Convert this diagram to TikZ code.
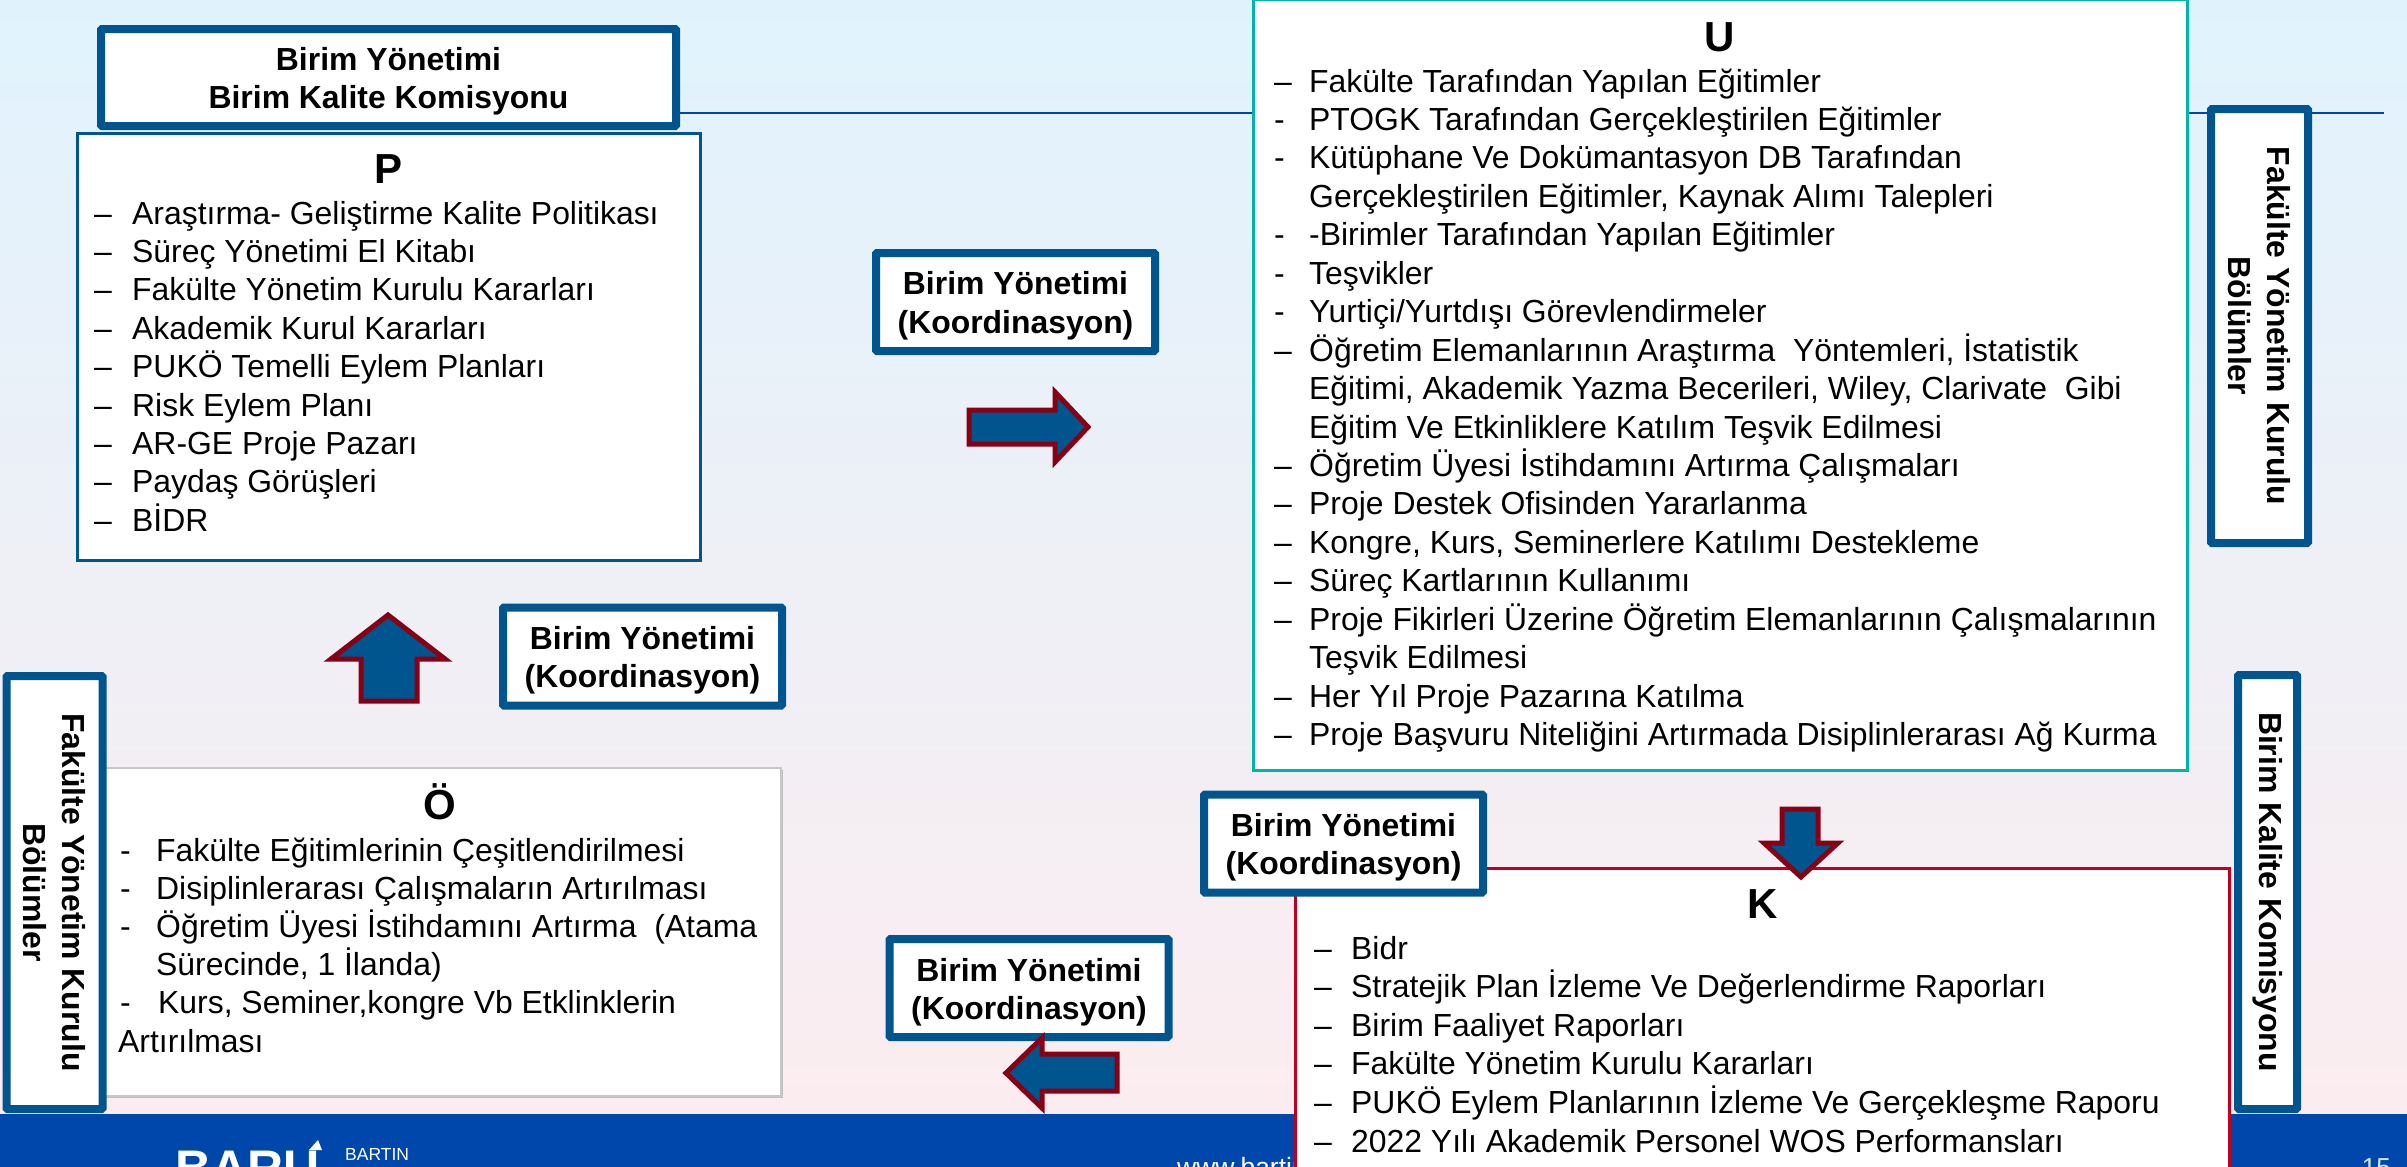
\documentclass[tikz,border=0pt]{standalone}
\usepackage{fontspec}
\setmainfont{Liberation Sans}
\definecolor{bgtop}{HTML}{E0F3FD}
\definecolor{bgbot}{HTML}{FDECEF}
\definecolor{band}{HTML}{0047AB}
\definecolor{frameblue}{HTML}{01558F}
\definecolor{framered}{HTML}{C00020}
\definecolor{frameteal}{HTML}{00B5A5}
\definecolor{arrowred}{HTML}{870014}
\newcommand{\Lfont}{\fontsize{31.9}{38.4}\selectfont}
\newcommand{\Hfont}{\fontsize{42}{46}\selectfont\bfseries}
\newcommand{\Bfont}{\fontsize{31.9}{38.4}\selectfont\bfseries}
\newcommand{\UpS}{\rule{0pt}{31pt}}
\newcommand{\Sl}{/}
\tikzset{
 x=1pt,y=-1pt,
 thickbox/.style={draw=frameblue,line width=8pt,rounded corners=1pt,fill=white,align=center,font=\Bfont,inner sep=0pt},
 flow/.style={draw=arrowred,line width=5pt,fill=frameblue,miter limit=10},
 litem/.style={anchor=base west,inner sep=0pt,font=\Lfont},
 ttl/.style={anchor=base,inner sep=0pt,font=\Hfont},
 foot/.style={inner sep=0pt,text=white},
}
\begin{document}
\begin{tikzpicture}
\useasboundingbox (0,0) rectangle (2407,1167);
\clip (0,0) rectangle (2407,1167);
\shade[top color=bgtop,bottom color=bgbot] (0,0) rectangle (2407,1167);
\fill[band] (0,1114) rectangle (2407,1167);
% connecting line
\coordinate (lineL) at (680,113);
\coordinate (lineR) at (2384,113);
\draw[band,line width=2.5pt] (lineL) -- (lineR);
% footer
\node[foot,anchor=base west,font=\fontsize{50}{50}\selectfont\bfseries] (logo) at (175,1185) {BARU};
\fill[white] (309,1150) -- (318,1140) -- (322,1150) -- cycle;
\node[foot,anchor=base west,font=\fontsize{17.5}{18}\selectfont] (logob) at (345,1160) {BARTIN};
\node[foot,anchor=base west,font=\fontsize{26.5}{27}\selectfont] (www) at (1177,1176) {www.bartin.edu.tr};
\node[foot,anchor=base east,text=white!85!band,font=\fontsize{26}{26}\selectfont] (pg) at (2391,1176) {15};
% P box
\node[draw=frameblue,line width=2.5pt,fill=white,inner sep=0pt,anchor=north west,minimum width=623pt,minimum height=427pt] (P) at (76,132) {};
\node[thickbox,minimum width=575pt,minimum height=97pt] (BK) at (388.5,77.5) {\UpS Birim Yönetimi\\Birim Kalite Komisyonu};
\node[ttl] (Pt) at (389,183) {P};
\foreach \t [count=\i from 0] in {Araştırma- Geliştirme Kalite Politikası,Süreç Yönetimi El Kitabı,Fakülte Yönetim Kurulu Kararları,Akademik Kurul Kararları,PUKÖ Temelli Eylem Planları,Risk Eylem Planı,AR-GE Proje Pazarı,Paydaş Görüşleri,BİDR}{
 \node[litem] (Pd\i) at (94,{224+38.4*\i}) {–};
 \node[litem] (Pl\i) at (132,{224+38.4*\i}) {\t};
}
% U box
\node[draw=frameteal,line width=2.5pt,fill=white,inner sep=0pt,anchor=north west,minimum width=934pt,minimum height=771pt] (U) at (1252,-2) {};
\node[ttl] (Ut) at (1720,51) {U};
\foreach \d/\t [count=\i from 0] in {–/Fakülte Tarafından Yapılan Eğitimler,-/PTOGK Tarafından Gerçekleştirilen Eğitimler,-/Kütüphane Ve Dokümantasyon DB Tarafından,/Gerçekleştirilen Eğitimler{,} Kaynak Alımı Talepleri,-/-Birimler Tarafından Yapılan Eğitimler,-/Teşvikler,-/Yurtiçi\Sl Yurtdışı Görevlendirmeler,–/Öğretim Elemanlarının Araştırma\ \ Yöntemleri{,} İstatistik,/Eğitimi{,} Akademik Yazma Becerileri{,} Wiley{,} Clarivate\ \ Gibi,/Eğitim Ve Etkinliklere Katılım Teşvik Edilmesi,–/Öğretim Üyesi İstihdamını Artırma Çalışmaları,–/Proje Destek Ofisinden Yararlanma,–/Kongre{,} Kurs{,} Seminerlere Katılımı Destekleme,–/Süreç Kartlarının Kullanımı,–/Proje Fikirleri Üzerine Öğretim Elemanlarının Çalışmalarının,/Teşvik Edilmesi,–/Her Yıl Proje Pazarına Katılma,–/Proje Başvuru Niteliğini Artırmada Disiplinlerarası Ağ Kurma}{
 \node[litem] (Ud\i) at (1274,{92+38.45*\i}) {\d};
 \node[litem] (Ul\i) at (1309,{92+38.45*\i}) {\t};
}
% O box
\fill[black!25] (103,770) rectangle (782.5,1098);
\node[draw=black!22,line width=1.5pt,fill=white,inner sep=0pt,anchor=north west,minimum width=680pt,minimum height=328pt] (O) at (100,767) {};
\node[ttl] (Ot) at (440,819) {Ö};
\foreach \d/\t [count=\i from 0] in {-/Fakülte Eğitimlerinin Çeşitlendirilmesi,-/Disiplinlerarası Çalışmaların Artırılması,-/Öğretim Üyesi İstihdamını Artırma\ \ (Atama,/Sürecinde{,} 1 İlanda),-/\kern2pt Kurs{,} Seminer{,}kongre Vb Etklinklerin}{
 \node[litem] (Od\i) at (120,{861+38*\i}) {\d};
 \node[litem] (Ol\i) at (156,{861+38*\i}) {\t};
}
\node[litem] (Ol5) at (118,1052) {Artırılması};
% K box
\node[draw=framered,line width=2.5pt,fill=white,inner sep=0pt,anchor=north west,minimum width=934pt,minimum height=340pt] (K) at (1294,867) {};
\node[ttl] (Kt) at (1763,918) {K};
\foreach \t [count=\i from 0] in {Bidr,Stratejik Plan İzleme Ve Değerlendirme Raporları,Birim Faaliyet Raporları,Fakülte Yönetim Kurulu Kararları,PUKÖ Eylem Planlarının İzleme Ve Gerçekleşme Raporu,2022 Yılı Akademik Personel WOS Performansları}{
 \node[litem] (Kd\i) at (1314,{959+38.6*\i}) {–};
 \node[litem] (Kl\i) at (1351,{959+38.6*\i}) {\t};
}
% coordination boxes
\node[thickbox,minimum width=279pt,minimum height=98pt] (C1) at (1015.5,302) {\UpS Birim Yönetimi\\(Koordinasyon)};
\node[thickbox,minimum width=279pt,minimum height=98pt] (C2) at (642.5,656.5) {\UpS Birim Yönetimi\\(Koordinasyon)};
\node[thickbox,minimum width=279pt,minimum height=98pt] (C3) at (1029,988) {\UpS Birim Yönetimi\\(Koordinasyon)};
\node[thickbox,minimum width=279pt,minimum height=98pt] (C4) at (1343.5,843.5) {\UpS Birim Yönetimi\\(Koordinasyon)};
% vertical boxes
\node[thickbox,rotate=-90,minimum width=434pt,minimum height=97pt] (V1) at (2259.5,326) {Fakülte Yönetim Kurulu\\Bölümler};
\node[thickbox,rotate=-90,minimum width=433pt,minimum height=96pt] (V2) at (54.5,892.5) {Fakülte Yönetim Kurulu\\Bölümler};
\node[thickbox,rotate=-90,minimum width=434pt,minimum height=59pt] (V3) at (2267.5,892) {Birim Kalite Komisyonu};
% arrows
\draw[flow] (969,410) -- (1055,410) -- (1055,392) -- (1088,427) -- (1055,462) -- (1055,444) -- (969,444) -- cycle;
\draw[flow] (388,615) -- (445,659) -- (417,659) -- (417,701) -- (361,701) -- (361,659) -- (331,659) -- cycle;
\draw[flow] (1782,809) -- (1818,809) -- (1818,843) -- (1838,843) -- (1801,877) -- (1764,843) -- (1782,843) -- cycle;
\draw[flow] (1006,1073) -- (1042,1038) -- (1042,1054) -- (1117,1054) -- (1117,1091) -- (1042,1091) -- (1042,1108) -- cycle;
\end{tikzpicture}
\end{document}
